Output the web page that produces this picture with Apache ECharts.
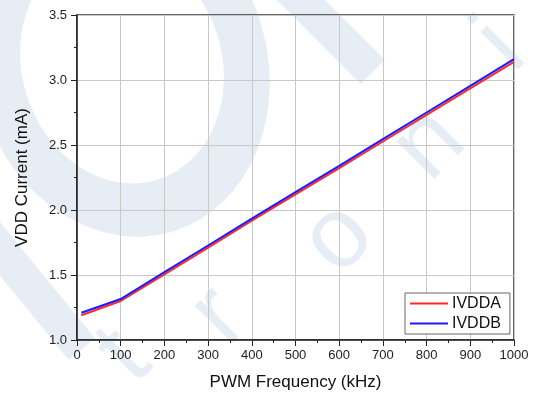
<!DOCTYPE html>
<html>
<head>
<meta charset="utf-8">
<script src="https://cdn.jsdelivr.net/npm/echarts@6/dist/echarts.min.js"></script>
<style>html,body{margin:0;padding:0;background:#fff}#c{width:537px;height:396px}</style>
</head>
<body>
<div id="c"></div>
<script>
const freq = [10, 100, 200, 300, 400, 500, 600, 700, 800, 900, 1000];
const ivdda = [1.19, 1.30, 1.505, 1.71, 1.918, 2.12, 2.322, 2.527, 2.732, 2.936, 3.14];
const ivddb = [1.21, 1.315, 1.522, 1.727, 1.934, 2.137, 2.34, 2.545, 2.75, 2.955, 3.16];
const seriesNames = ['IVDDA', 'IVDDB'];
const xTicks = [0, 100, 200, 300, 400, 500, 600, 700, 800, 900, 1000];
const yTicks = [1.0, 1.5, 2.0, 2.5, 3.0, 3.5];

const wm = '#e7edf5';
const chart = echarts.init(document.getElementById('c'));
const pairs = (xs, ys) => xs.map((x, i) => [x, ys[i]]);
const wmText = (t, x, y) => ({ type: 'text', z: -10, x: x, y: y, rotation: Math.PI / 4, silent: true,
  style: { text: t, font: '100px "Liberation Sans"', fill: wm, align: 'center', verticalAlign: 'bottom' } });
chart.setOption({
  animation: false,
  backgroundColor: '#fff',
  graphic: [
    { type: 'ring', z: -10, x: 122, y: 65, rotation: 0.3, scaleX: 1, scaleY: 1.2,
      shape: { cx: 0, cy: 0, r: 145, r0: 100 }, style: { fill: wm }, silent: true },
    { type: 'rect', z: -10, x: 300, y: -25, rotation: -Math.PI / 4,
      shape: { x: 0, y: 0, width: 120, height: 34 }, style: { fill: wm }, silent: true },
    { type: 'rect', z: -10, x: 0, y: 222, rotation: -Math.PI / 4 - 0.1,
      shape: { x: 0, y: 0, width: 150, height: 34 }, style: { fill: wm }, silent: true },
    wmText('t', 160, 392),
    wmText('r', 255, 352),
    wmText('o', 374, 274),
    wmText('n', 465, 180),
    wmText('i', 537, 82)
  ],
  grid: { left: 77, right: 23, top: 15, bottom: 55, show: true, borderColor: '#333', borderWidth: 1.5, backgroundColor: 'transparent' },
  legend: {
    orient: 'vertical', left: 405, top: 293, padding: [1, 9, 1, 5], itemGap: 1,
    icon: 'rect', itemWidth: 38, itemHeight: 2, borderColor: '#666', borderWidth: 1, backgroundColor: '#fff',
    textStyle: { fontFamily: 'Liberation Sans', fontSize: 16, lineHeight: 19, color: '#111', padding: [0, 0, 0, -1] },
    data: seriesNames
  },
  xAxis: {
    type: 'value', min: xTicks[0], max: xTicks[xTicks.length - 1], interval: 100,
    name: 'PWM Frequency (kHz)', nameLocation: 'middle', nameGap: 34,
    nameTextStyle: { fontFamily: 'Liberation Sans', fontSize: 17, color: '#111' },
    axisLine: { show: true, lineStyle: { color: '#222', width: 1.5 } },
    axisTick: { show: true, length: 6, lineStyle: { color: '#222' } },
    minorTick: { show: true, splitNumber: 2, length: 3, lineStyle: { color: '#222' } },
    axisLabel: { fontFamily: 'Liberation Sans', fontSize: 13, color: '#222', margin: 9,
      formatter: v => String(v) },
    splitLine: { show: true, lineStyle: { color: '#c8c8c8', width: 1 } }
  },
  yAxis: {
    type: 'value', min: yTicks[0], max: yTicks[yTicks.length - 1], interval: 0.5,
    name: 'VDD Current (mA)', nameLocation: 'middle', nameGap: 46,
    nameTextStyle: { fontFamily: 'Liberation Sans', fontSize: 17, color: '#111' },
    axisLine: { show: true, lineStyle: { color: '#222', width: 1.5 } },
    axisTick: { show: true, length: 6, lineStyle: { color: '#222' } },
    minorTick: { show: true, splitNumber: 2, length: 3, lineStyle: { color: '#222' } },
    axisLabel: { fontFamily: 'Liberation Sans', fontSize: 13, color: '#222', margin: 10,
      formatter: v => v.toFixed(1) },
    splitLine: { show: true, lineStyle: { color: '#c8c8c8', width: 1 } }
  },
  series: [
    { name: seriesNames[0], type: 'line', data: pairs(freq, ivdda), symbol: 'none',
      lineStyle: { color: '#ff2a2a', width: 2 }, itemStyle: { color: '#ff2a2a' } },
    { name: seriesNames[1], type: 'line', data: pairs(freq, ivddb), symbol: 'none',
      lineStyle: { color: '#1a1aff', width: 2 }, itemStyle: { color: '#1a1aff' } }
  ]
});
</script>
</body>
</html>
